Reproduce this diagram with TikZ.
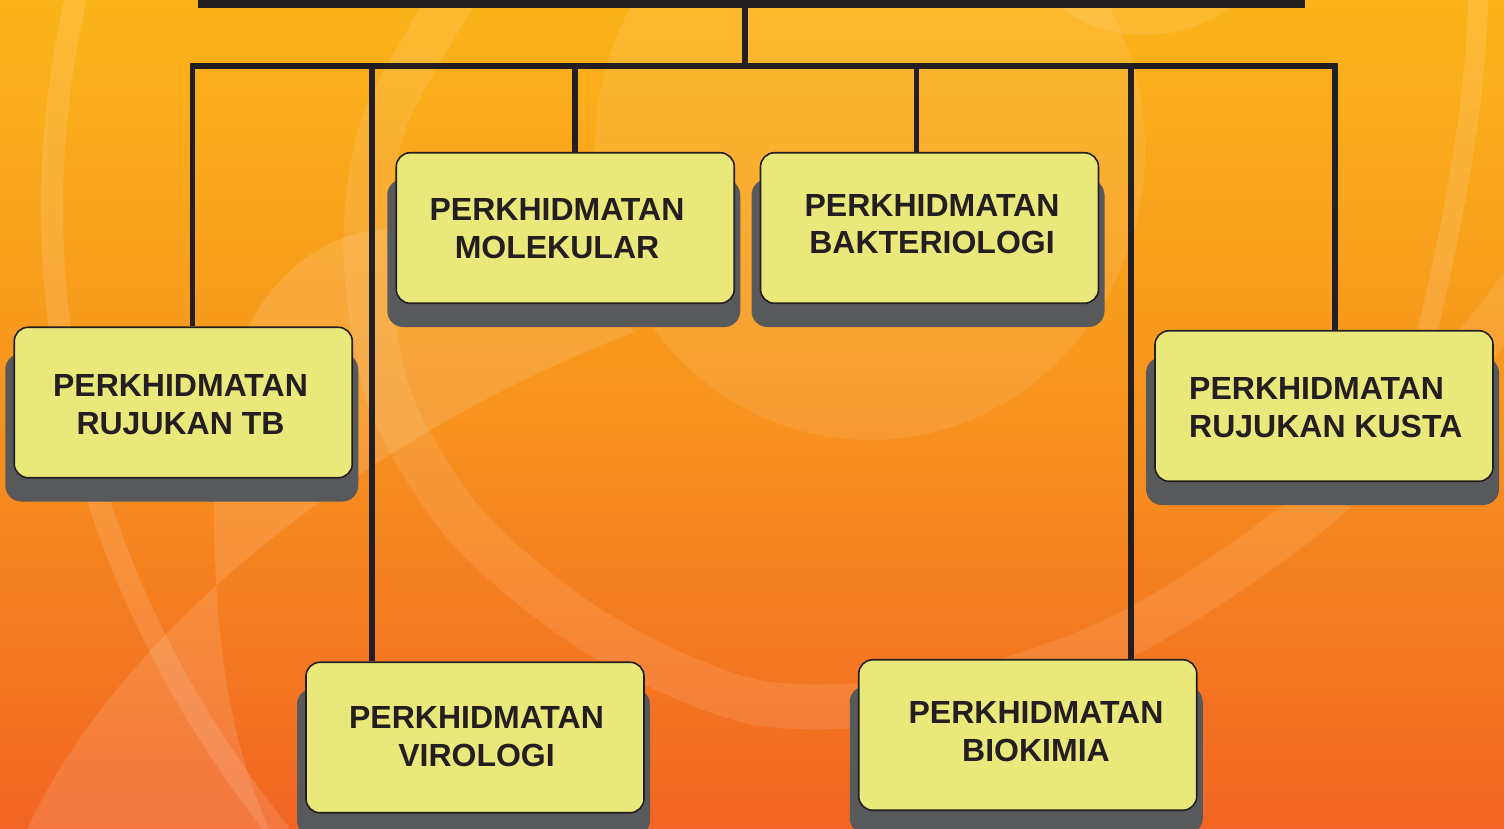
\documentclass[tikz,border=0pt]{standalone}
\usepackage{fontspec}
\setmainfont{Liberation Sans}
\definecolor{bgtop}{HTML}{FCB41A}
\definecolor{bgmid}{HTML}{F7931E}
\definecolor{bgbot}{HTML}{F26524}
\definecolor{ink}{HTML}{231F20}
\definecolor{boxfill}{HTML}{E9E87B}
\definecolor{shadowc}{HTML}{58595B}
\begin{document}
\begin{tikzpicture}[x=1pt,y=-1pt,
  conn/.style={draw=ink,line width=5.5pt},
  panel/.style={draw=ink,line width=1.6pt,fill=boxfill,rounded corners=14pt,minimum width=338pt,minimum height=150.5pt,inner sep=0pt},
  shad/.style={fill=shadowc,rounded corners=16pt},
  txt/.style={font=\fontsize{32}{37.5}\selectfont\bfseries,text=ink,align=center,inner sep=0pt},
  deco/.style={white,opacity=0.12}]
\useasboundingbox (0,0) rectangle (1504,828);
\clip (0,0) rectangle (1504,828);
\shade[top color=bgtop, bottom color=bgbot, middle color=bgmid] (0,0) rectangle (1504,828);
% decorative light shapes
\fill[deco,opacity=0.09] (870,150) ellipse (275 and 290);
\fill[deco,opacity=0.10] (1145,-60) ellipse (120 and 95);
\draw[deco,opacity=0.10,line width=45pt] plot[smooth] coordinates {(470,-30) (385,120) (366,250) (390,400) (470,530) (600,635) (760,703) (950,695) (1131,632) (1318,506) (1480,340) (1560,230)};
\draw[deco,line width=22pt] (78,-10) .. controls (15,250) and (60,560) .. (285,840);
\draw[deco,line width=20pt] (1478,-10) .. controls (1478,100) and (1450,250) .. (1405,420);
\fill[deco] (22,840) .. controls (120,620) and (380,430) .. (634,332) .. controls (580,270) and (490,228) .. (400,228) .. controls (290,228) and (215,330) .. (214,480) .. controls (213,620) and (225,740) .. (275,840) -- cycle;
% head bar
\node[fill=ink,minimum width=1107pt,minimum height=16pt,inner sep=0pt,outer sep=0pt] (head) at (751.5,-0.5) {};
% shadows
\foreach \cx/\cy in {565.25/228, 929.5/228, 183.25/402.5, 1324/406, 475/737.5, 1027.75/735}
  \fill[shad] (\cx-178,\cy-49) rectangle (\cx+175,\cy+99);
% boxes
\node[panel] (mol) at (565.25,228) {};
\node[panel] (bak) at (929.5,228) {};
\node[panel] (tb) at (183.25,402.5) {};
\node[panel] (kus) at (1324,406) {};
\node[panel] (vir) at (475,737.5) {};
\node[panel] (bio) at (1027.75,735) {};
% texts
\node[txt] (molt) at (557,228.5) {PERKHIDMATAN\\MOLEKULAR};
\node[txt] (bakt) at (932,224.3) {PERKHIDMATAN\\BAKTERIOLOGI};
\node[txt] (tbt) at (180.5,404.5) {PERKHIDMATAN\\RUJUKAN TB};
\node[txt,align=left,anchor=west] (kust) at (1189,407.5) {PERKHIDMATAN\\RUJUKAN KUSTA};
\node[txt] (virt) at (476.5,736.5) {PERKHIDMATAN\\VIROLOGI};
\node[txt] (biot) at (1036,731.5) {PERKHIDMATAN\\BIOKIMIA};
% connectors
\coordinate (busL) at (192.5,66);
\coordinate (busR) at (1335,66);
\coordinate (busM) at (745,66);
\coordinate (dvir) at (372,66);
\coordinate (dmol) at (575,66);
\coordinate (dbak) at (916.5,66);
\coordinate (dbio) at (1131,66);
\draw[conn] (tb.north -| busL) |- (busR) -- (kus.north -| busR);
\draw[conn] (head.south -| busM) -- (busM);
\draw[conn] (dvir) -- (dvir |- vir.north);
\draw[conn] (dmol) -- (dmol |- mol.north);
\draw[conn] (dbak) -- (dbak |- bak.north);
\draw[conn] (dbio) -- (dbio |- bio.north);
\end{tikzpicture}
\end{document}
